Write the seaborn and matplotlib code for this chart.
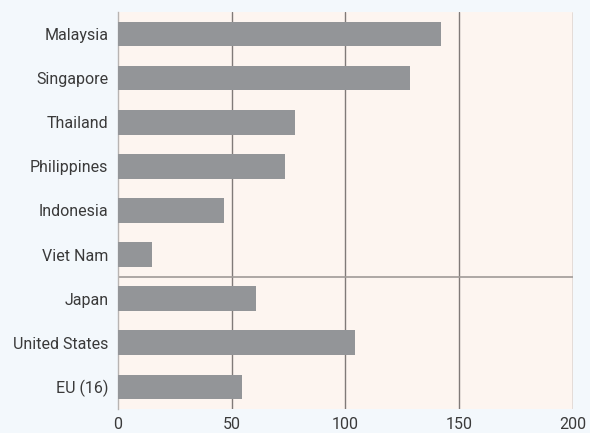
import pandas as pd
import matplotlib.pyplot as plt
import seaborn as sns

# Values
countries = ['Malaysia', 'Singapore', 'Thailand', 'Philippines', 'Indonesia',
             'Viet Nam', 'Japan', 'United States', 'EU (16)']
values = [141.8, 128.6, 78.0, 73.6, 46.4, 15.1, 60.5, 104.4, 54.3]
x_ticks = [0, 50, 100, 150, 200]


def main():
    df = pd.DataFrame({'country': countries, 'value': values})

    sns.set_style('white')
    plt.rcParams['font.family'] = ['Roboto', 'DejaVu Sans']

    fig = plt.figure(figsize=(5.9, 4.33), dpi=100, facecolor='#f3f8fc')
    ax = fig.add_axes([0.2, 0.0555, 0.771, 0.917])
    ax.set_facecolor('#fdf5f0')

    sns.barplot(data=df, x='value', y='country', orient='h', color='#939598',
                saturation=1, width=0.56, ax=ax, zorder=3,
                edgecolor='none', linewidth=0)

    ax.set_xlim(0, 200)
    ax.set_ylim(len(countries) - 0.5, -0.5)
    ax.set_xticks(x_ticks)
    ax.set_xticklabels([str(t) for t in x_ticks])

    # vertical gridlines
    for t in x_ticks[1:]:
        ax.axvline(t, color='#807a78', lw=1.0, zorder=1)
    # separator between the ASEAN group and the others
    ax.axhline(5.5, color='#a09a98', lw=1.2, zorder=1)

    for side in ['top', 'right', 'bottom']:
        ax.spines[side].set_visible(False)
    ax.spines['left'].set_color('#b8b4b2')
    ax.spines['left'].set_linewidth(1.0)

    ax.tick_params(axis='both', length=0, labelsize=11.5, labelcolor='#3a3a3a')
    ax.tick_params(axis='y', pad=7)
    ax.tick_params(axis='x', pad=6)
    ax.set_xlabel('')
    ax.set_ylabel('')

    plt.savefig('out.png', dpi=100, facecolor=fig.get_facecolor())


if __name__ == "__main__":
    main()
